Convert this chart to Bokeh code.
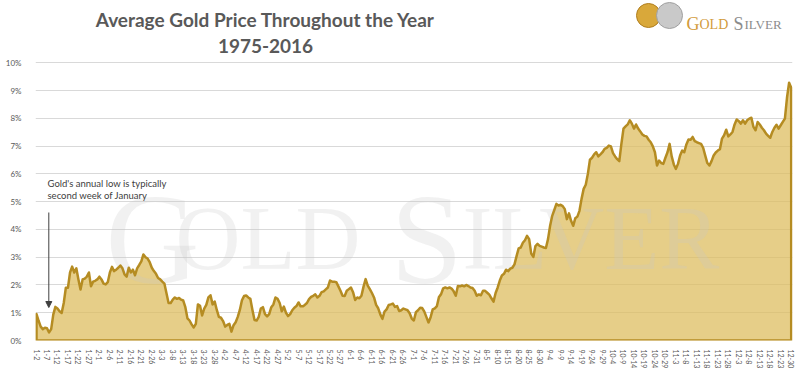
from bokeh.plotting import figure
from bokeh.models import Range1d, FixedTicker, Label, Arrow, NormalHead
from bokeh.core.properties import value
from bokeh.embed import file_html
from bokeh.resources import INLINE

# ---------------- data ----------------
tick_labels = ["1-2", "1-7", "1-12", "1-17", "1-22", "1-27", "2-1", "2-6", "2-11", "2-16",
               "2-21", "2-26", "3-3", "3-8", "3-13", "3-18", "3-23", "3-28", "4-2", "4-7",
               "4-12", "4-17", "4-22", "4-27", "5-2", "5-7", "5-12", "5-17", "5-22", "5-27",
               "6-1", "6-6", "6-11", "6-16", "6-21", "6-26", "7-1", "7-6", "7-11", "7-16",
               "7-21", "7-26", "7-31", "8-5", "8-10", "8-15", "8-20", "8-25", "8-30", "9-4",
               "9-9", "9-14", "9-19", "9-24", "9-29", "10-4", "10-9", "10-14", "10-19", "10-24",
               "10-29", "11-3", "11-8", "11-13", "11-18", "11-23", "11-28", "12-3", "12-8", "12-13",
               "12-18", "12-23", "12-30"]

# average gain vs. start of year (%), one value per fixing day
q1_values = [0.95, 0.71, 0.50, 0.41, 0.46, 0.44, 0.29, 0.41, 0.93, 1.21,
             1.15, 1.05, 0.99, 1.35, 1.90, 1.90, 2.45, 2.66, 2.45, 2.60,
             2.20, 1.84, 2.20, 2.23, 2.30, 2.45, 1.95, 2.12, 2.15, 2.20,
             2.30, 2.20, 2.05, 2.02, 2.10, 2.45, 2.65, 2.50, 2.55, 2.62,
             2.70, 2.60, 2.38, 2.30, 2.62, 2.45, 2.55, 2.35, 2.60, 2.72,
             2.85, 3.10, 3.00, 2.95, 2.82, 2.62, 2.50, 2.40, 2.25, 2.20,
             2.12, 2.05, 1.70, 1.35, 1.35, 1.47, 1.55, 1.50, 1.53, 1.47,
             1.44, 1.20, 0.80, 0.72, 0.58, 0.47, 0.60, 1.30, 1.25, 0.90,
             1.15, 1.28, 1.55, 1.63, 1.30, 1.40, 1.10, 0.85, 0.82]
q2_values = [0.70, 0.50, 0.56, 0.60, 0.32, 0.55, 0.66, 0.85, 1.10, 1.45,
             1.60, 1.62, 1.55, 1.50, 1.10, 0.74, 0.72, 0.85, 1.15, 1.20,
             0.95, 0.87, 0.95, 1.20, 1.30, 1.55, 1.50, 1.35, 1.05, 1.22,
             1.00, 0.88, 0.95, 1.09, 1.18, 1.24, 1.37, 1.23, 1.23, 1.28,
             1.35, 1.49, 1.57, 1.61, 1.66, 1.55, 1.61, 1.74, 1.77, 1.84,
             1.91, 2.16, 2.12, 2.12, 2.10, 1.95, 1.79, 1.61, 1.60, 1.79,
             1.85, 1.91, 1.74, 1.46, 1.55, 1.52, 1.61, 1.94, 2.21, 1.98,
             1.85, 1.71, 1.55, 1.28, 1.16, 0.94, 0.78, 1.04, 1.12, 1.28,
             1.30, 1.33, 1.21, 1.24, 1.06, 1.09, 1.15, 1.12, 1.09, 0.98,
             0.79]
q3_values = [0.72, 1.02, 1.09, 1.18, 1.17, 1.04, 0.84, 0.65, 0.84, 1.12,
             1.16, 1.24, 1.57, 1.67, 1.88, 1.91, 1.88, 1.91, 1.87, 1.77,
             1.61, 1.96, 1.95, 1.98, 1.95, 2.00, 1.96, 1.91, 1.89, 1.79,
             1.61, 1.66, 1.63, 1.79, 1.79, 1.72, 1.65, 1.52, 1.40, 1.71,
             1.91, 2.16, 2.34, 2.40, 2.55, 2.50, 2.59, 2.62, 2.74, 3.04,
             3.32, 3.35, 3.52, 3.61, 3.77, 3.65, 3.13, 3.01, 3.40, 3.48,
             3.41, 3.38, 3.35, 3.33, 3.65, 4.13, 4.49, 4.70, 4.92, 4.86,
             4.89, 4.84, 4.73, 4.37, 4.58, 4.31, 4.13, 4.40, 4.46, 4.67,
             5.10, 5.46, 5.61, 6.00, 6.51, 6.58, 6.70, 6.78, 6.63, 6.70,
             6.78, 6.90]
q4_values = [6.94, 7.02, 6.99, 6.75, 6.63, 6.53, 6.46, 7.08, 7.63, 7.71,
             7.78, 7.93, 7.81, 7.63, 7.78, 7.63, 7.53, 7.42, 7.37, 7.35,
             7.23, 7.14, 6.99, 6.78, 6.30, 6.48, 6.39, 6.36, 6.58, 6.78,
             7.08, 6.63, 6.34, 6.18, 6.36, 6.66, 6.84, 6.78, 7.06, 7.24,
             7.23, 7.33, 7.18, 7.14, 7.11, 7.08, 6.94, 6.66, 6.39, 6.30,
             6.46, 6.66, 6.77, 6.84, 6.89, 7.27, 7.39, 7.59, 7.35, 7.42,
             7.51, 7.78, 7.96, 7.90, 7.81, 7.93, 7.81, 7.93, 7.99, 8.02,
             7.69, 7.57, 7.87, 7.78, 7.66, 7.57, 7.45, 7.37, 7.30, 7.51,
             7.66, 7.77, 7.63, 7.75, 7.87, 7.99, 8.75, 9.28, 9.10]
y_ticks = [0, 1, 2, 3, 4, 5, 6, 7, 8, 9, 10]
tick_step = 5

title_lines = ["Average Gold Price Throughout the Year", "1975-2016"]
note_lines = ["Gold's annual low is typically", "second week of January"]
source_text = "Source: Bundesbank"

# ---------------- layout (page pixels) ----------------
values = q1_values + q2_values + q3_values + q4_values
xs = list(range(len(values)))
last = xs[-1]

W, H = 801, 381
FL, FR, FT, FB = 35, 792, 0, 340           # frame edges
X0_PX, XN_PX = 36.0, 790.7                 # first / last data point
Y10_PX = 62.3                              # 10% gridline
ppx = (XN_PX - X0_PX) / last
ppy = (FB - Y10_PX) / 10.0
x_start = -(X0_PX - FL) / ppx
x_end = last + (FR - XN_PX) / ppx
y_end = (FB - FT) / ppy


def dx(fx):
    return x_start + (fx - FL) / ppx


def dy(fy):
    return (FB - fy) / ppy


p = figure(width=W, height=H, output_backend="svg", toolbar_location=None,
           x_range=Range1d(x_start, x_end), y_range=Range1d(0, y_end),
           min_border_left=FL, min_border_right=W - FR, min_border_top=FT,
           min_border_bottom=H - FB)
p.outline_line_color = None
p.background_fill_color = "white"
p.border_fill_color = "white"

GRAY = "#595959"
FILL = "#DDBB5A"
LINE = "#B58C22"

# axes
p.xaxis.ticker = FixedTicker(ticks=[i * tick_step for i in range(len(tick_labels))])
p.xaxis.major_label_overrides = {i * tick_step: t for i, t in enumerate(tick_labels)}
p.xaxis.major_label_orientation = "vertical"
p.xaxis.major_label_text_font = "Lato"
p.xaxis.major_label_text_font_size = "7px"
p.xaxis.major_label_text_color = GRAY
p.xaxis.major_label_standoff = 3
p.yaxis.ticker = FixedTicker(ticks=y_ticks)
p.yaxis.major_label_overrides = {t: f"{t}%" for t in y_ticks}
p.yaxis.major_label_text_font = "Lato"
p.yaxis.major_label_text_font_size = "8px"
p.yaxis.major_label_text_color = GRAY
p.yaxis.major_label_standoff = 8
for ax in (p.xaxis, p.yaxis):
    ax.axis_line_color = None
    ax.major_tick_line_color = None
    ax.minor_tick_line_color = None
p.xgrid.grid_line_color = None
p.ygrid.grid_line_color = "#D9D9D9"
p.ygrid.grid_line_width = 1

# area
px_poly = xs + [last, 0]
py_poly = values + [0, 0]
p.patch(px_poly, py_poly, fill_color=FILL, fill_alpha=0.72, line_color=None)

# watermark
wm = [("G", 105, 238, 130), ("OLD", 175, 238, 90), ("S", 390, 238, 130), ("ILVER", 462, 238, 90)]
for txt, fx, fy, fs in wm:
    p.text(x=[dx(fx)], y=[dy(fy)], text=[txt], text_font=value("Liberation Serif"),
           text_font_size=f"{fs}px", text_color="#C8C8C8", text_alpha=0.25,
           text_baseline="alphabetic", text_align="left")

p.patch(px_poly, py_poly, fill_color=None, line_color=LINE, line_width=2.5,
        line_join="round")

# title
for k, t in enumerate(title_lines):
    p.add_layout(Label(x=dx(265), y=dy(19 + 26 * k), text=t, text_font="Lato",
                       text_font_style="bold", text_font_size="19px", text_color=GRAY,
                       text_align="center", text_baseline="middle"))

# logo
p.scatter(x=[dx(648)], y=[dy(15)], size=24, marker="circle", fill_color="#D9A83A",
          line_color="#B07E1E", line_width=1)
p.scatter(x=[dx(669)], y=[dy(15)], size=26, marker="circle", fill_color="#C9C9C9",
          line_color="#A0A0A0", line_width=1)
logo = [("G", 686, 18, "#D29B3C"), ("OLD", 699, 14, "#D29B3C"),
        ("S", 733, 18, "#8C8C8C"), ("ILVER", 744, 13, "#8C8C8C")]
for txt, fx, fs, col in logo:
    p.add_layout(Label(x=dx(fx), y=dy(23.5), text=txt, text_font="Liberation Serif",
                       text_font_size=f"{fs}px", text_color=col,
                       text_align="left", text_baseline="alphabetic"))

# note + arrow
for k, line in enumerate(note_lines):
    p.add_layout(Label(x=dx(47), y=dy(182.7 + 12.5 * k), text=line, text_font="Lato",
                       text_font_size="9.5px", text_color="#404040",
                       text_align="left", text_baseline="middle"))
p.add_layout(Arrow(x_start=dx(48.3), y_start=dy(212), x_end=dx(48.3), y_end=dy(307),
                   line_color="#404040", line_width=1,
                   end=NormalHead(size=6, fill_color="#404040", line_color="#404040")))

# source
p.add_layout(Label(x=dx(667), y=dy(371), text=source_text, text_font="Lato",
                   text_font_size="9.5px", text_color="#404040",
                   text_align="left", text_baseline="middle"))

open("out.html", "w").write(file_html(p, INLINE))
